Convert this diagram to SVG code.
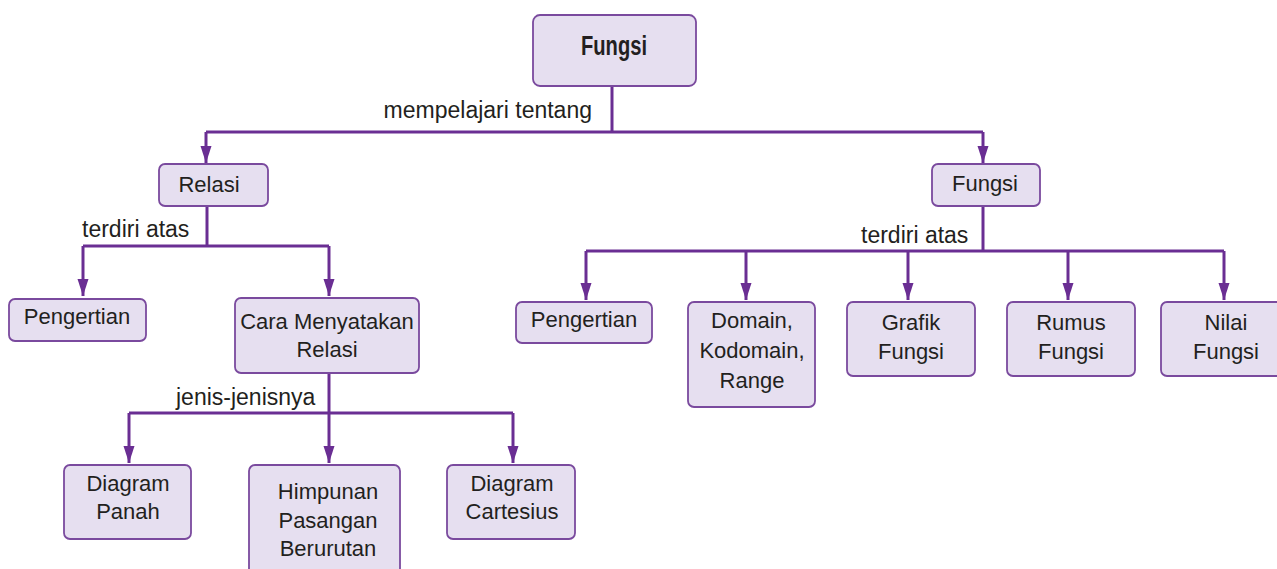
<svg xmlns="http://www.w3.org/2000/svg" width="1277" height="569" viewBox="0 0 1277 569">
<style>
.box{fill:#e6dff0;stroke:#7a4a9e;stroke-width:1.8}
.t{font-family:"Liberation Sans",Arial,sans-serif;font-size:22px;fill:#231f20;text-anchor:middle}
.lbl{font-family:"Liberation Sans",Arial,sans-serif;font-size:23px;fill:#231f20}
.c{fill:none;stroke:#6a2e93;stroke-width:3}
</style>
<defs>
<marker id="arr" markerUnits="userSpaceOnUse" markerWidth="18" markerHeight="12" refX="17" refY="6" orient="auto">
<path d="M0,0.5 L17,6 L0,11.5 z" fill="#6a2e93"/>
</marker>
</defs>
<g id="connectors">
<polyline class="c" points="612,86 612,132"/>
<polyline class="c" points="206,132 983,132"/>
<polyline class="c" points="206,132 206,163" marker-end="url(#arr)"/>
<polyline class="c" points="983,132 983,163" marker-end="url(#arr)"/>
<polyline class="c" points="207,206 207,246"/>
<polyline class="c" points="83,246 329,246"/>
<polyline class="c" points="83,246 83,296" marker-end="url(#arr)"/>
<polyline class="c" points="329,246 329,296" marker-end="url(#arr)"/>
<polyline class="c" points="329,373 329,463" marker-end="url(#arr)"/>
<polyline class="c" points="129,413 513,413"/>
<polyline class="c" points="129,413 129,463" marker-end="url(#arr)"/>
<polyline class="c" points="513,413 513,463" marker-end="url(#arr)"/>
<polyline class="c" points="983,206 983,251"/>
<polyline class="c" points="586,251 1224,251"/>
<polyline class="c" points="586,251 586,300" marker-end="url(#arr)"/>
<polyline class="c" points="746,251 746,300" marker-end="url(#arr)"/>
<polyline class="c" points="908,251 908,300" marker-end="url(#arr)"/>
<polyline class="c" points="1068,251 1068,300" marker-end="url(#arr)"/>
<polyline class="c" points="1224,251 1224,300" marker-end="url(#arr)"/>
<text class="lbl" x="592" y="118" text-anchor="end">mempelajari tentang</text>
<text class="lbl" x="82" y="237">terdiri atas</text>
<text class="lbl" x="176" y="405">jenis-jenisnya</text>
<text class="lbl" x="861" y="243">terdiri atas</text>
</g>
<g id="root">
<rect class="box" x="533" y="15" width="163" height="71" rx="7"/>
<text x="614" y="55" text-anchor="middle" font-family="'Liberation Sans',Arial,sans-serif" font-weight="bold" font-size="28" fill="#231f20" textLength="66" lengthAdjust="spacingAndGlyphs">Fungsi</text>
</g>
<g id="relasi">
<rect class="box" x="159" y="164" width="109" height="42" rx="6"/>
<text class="t" x="209" y="192">Relasi</text>
</g>
<g id="fungsi2">
<rect class="box" x="932" y="164" width="108" height="42" rx="6"/>
<text class="t" x="985" y="191">Fungsi</text>
</g>
<g id="pengertian1">
<rect class="box" x="9" y="299" width="137" height="42" rx="6"/>
<text class="t" x="77" y="324">Pengertian</text>
</g>
<g id="cara">
<rect class="box" x="235" y="298" width="184" height="75" rx="6"/>
<text class="t" x="327" y="329">Cara Menyatakan</text>
<text class="t" x="327" y="357">Relasi</text>
</g>
<g id="panah">
<rect class="box" x="64" y="465" width="127" height="74" rx="6"/>
<text class="t" x="128" y="491">Diagram</text>
<text class="t" x="128" y="519">Panah</text>
</g>
<g id="himpunan">
<rect class="box" x="249" y="465" width="151" height="120" rx="6"/>
<text class="t" x="328" y="499">Himpunan</text>
<text class="t" x="328" y="528">Pasangan</text>
<text class="t" x="328" y="556">Berurutan</text>
</g>
<g id="cartesius">
<rect class="box" x="447" y="465" width="128" height="74" rx="6"/>
<text class="t" x="512" y="491">Diagram</text>
<text class="t" x="512" y="519">Cartesius</text>
</g>
<g id="pengertian2">
<rect class="box" x="516" y="302" width="136" height="41" rx="6"/>
<text class="t" x="584" y="327">Pengertian</text>
</g>
<g id="domain">
<rect class="box" x="688" y="302" width="127" height="105" rx="6"/>
<text class="t" x="752" y="328">Domain,</text>
<text class="t" x="752" y="358">Kodomain,</text>
<text class="t" x="752" y="388">Range</text>
</g>
<g id="grafik">
<rect class="box" x="847" y="302" width="128" height="74" rx="6"/>
<text class="t" x="911" y="330">Grafik</text>
<text class="t" x="911" y="359">Fungsi</text>
</g>
<g id="rumus">
<rect class="box" x="1007" y="302" width="128" height="74" rx="6"/>
<text class="t" x="1071" y="330">Rumus</text>
<text class="t" x="1071" y="359">Fungsi</text>
</g>
<g id="nilai">
<rect class="box" x="1161" y="302" width="125" height="74" rx="6"/>
<text class="t" x="1226" y="330">Nilai</text>
<text class="t" x="1226" y="359">Fungsi</text>
</g>
</svg>
